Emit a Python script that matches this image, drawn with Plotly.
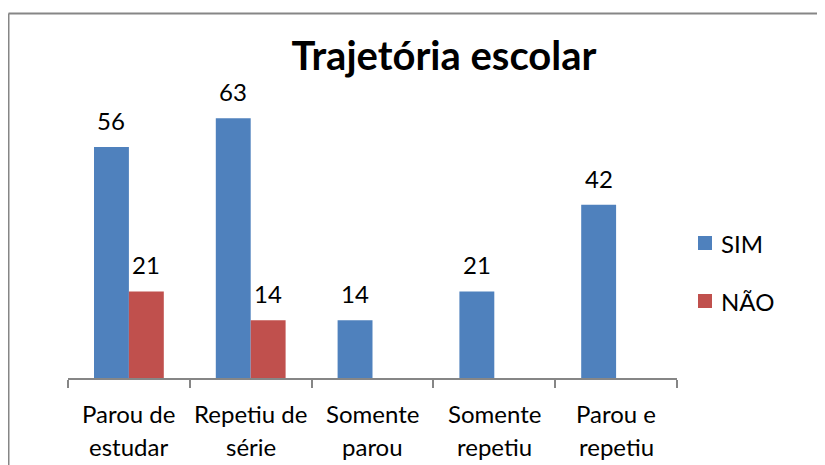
import plotly.graph_objects as go

categories = ["Parou de\nestudar", "Repetiu de\nsérie", "Somente\nparou", "Somente\nrepetiu", "Parou e\nrepetiu"]
series_names = ["SIM", "NÃO"]
sim = [56, 63, 14, 21, 42]
nao = [21, 14, None, None, None]
title = "Trajetória escolar"

# page body has an 8px margin; build the figure so the page lines up with the reference
OX, OY = 8, 8
FW, FH = 825 - OX, 465 - OY


def px(x):
    return (x - OX) / FW


def py(y):
    return 1 - (y - OY) / FH


FONT = "Lato"
BLUE = "#4F81BD"
RED = "#C0504D"
GRAY = "#868686"
COLORS = [BLUE, RED]

x_idx = list(range(len(categories)))

fig = go.Figure()
for name, vals, col in zip(series_names, [sim, nao], COLORS):
    fig.add_trace(go.Bar(name=name, x=x_idx, y=vals, marker=dict(color=col, line=dict(width=0)),
                         showlegend=False))

annotations = []
# data labels
for series, shift in ((sim, -17.5), (nao, 17.5)):
    for i, v in enumerate(series):
        if v is None:
            continue
        annotations.append(dict(x=i, y=v, xref="x", yref="y", text=str(v), showarrow=False,
                                xshift=shift, yanchor="bottom", yshift=10,
                                font=dict(family=FONT, size=24, color="black")))
# category labels (two lines each)
for i, lab in enumerate(categories):
    for j, line in enumerate(lab.split("\n")):
        annotations.append(dict(x=i, y=0, xref="x", yref="y", text=line, showarrow=False,
                                yanchor="middle", yshift=-35 - 33 * j,
                                font=dict(family=FONT, size=24, color="black")))

shapes = [
    dict(type="line", xref="paper", yref="paper", x0=px(8.5), x1=1.0, y0=py(13.5), y1=py(13.5),
         line=dict(color=GRAY, width=2)),
    dict(type="line", xref="paper", yref="paper", x0=px(8.5), x1=px(8.5), y0=0, y1=py(13.5),
         line=dict(color=GRAY, width=2)),
]

# legend (manual)
for k, (name, col) in enumerate(zip(series_names, COLORS)):
    cy = 243 + 58 * k
    shapes.append(dict(type="rect", xref="paper", yref="paper",
                       x0=px(698), x1=px(712), y0=py(cy + 7), y1=py(cy - 7),
                       fillcolor=col, line=dict(width=0)))
    annotations.append(dict(x=px(719), y=py(cy), xref="paper", yref="paper", text=name,
                            showarrow=False, xanchor="left", yanchor="middle",
                            font=dict(family=FONT, size=24, color="black")))

base_y = 378
top_y = base_y - 70 * 4.125

fig.update_layout(
    width=FW, height=FH,
    margin=dict(l=0, r=0, t=0, b=0),
    paper_bgcolor="white", plot_bgcolor="white",
    barmode="group", bargap=0.427, bargroupgap=0,
    title=dict(text="<b>" + title + "</b>", x=px(444), xanchor="center",
               y=py(56), yanchor="middle",
               font=dict(family=FONT, size=40, color="black")),
    xaxis=dict(domain=[px(68), px(677)], range=[-0.5, len(categories) - 0.5],
               showticklabels=False, showline=True, linecolor=GRAY, linewidth=1.5,
               ticks="outside", ticklen=8, tickcolor=GRAY, tickwidth=1.5,
               tickmode="array", tickvals=[i - 0.5 for i in range(len(categories) + 1)],
               showgrid=False, zeroline=False, fixedrange=True),
    yaxis=dict(domain=[py(base_y), py(top_y)], range=[0, 70], visible=False,
               showgrid=False, zeroline=False),
    showlegend=False,
    annotations=annotations,
    shapes=shapes,
)

fig.write_html("out.html")
